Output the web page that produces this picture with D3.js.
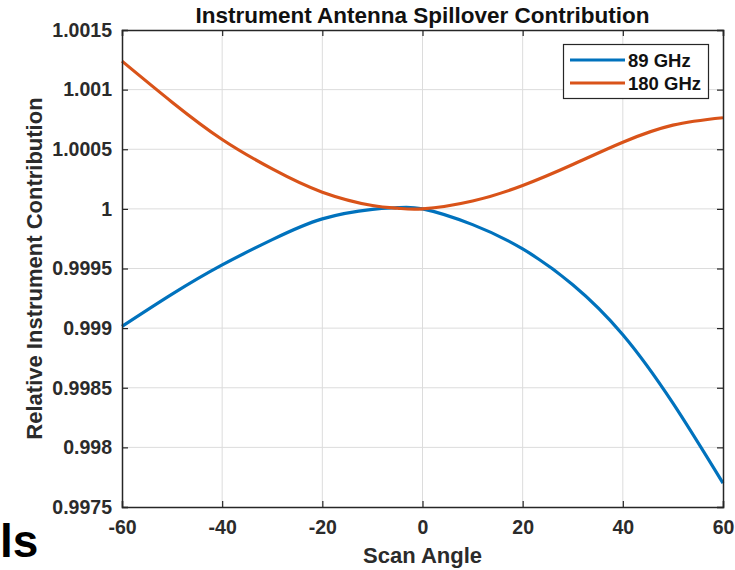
<!DOCTYPE html>
<html><head><meta charset="utf-8">
<script src="https://cdn.jsdelivr.net/npm/d3@7"></script>
<style>body{margin:0;background:#fff;}svg{display:block;font-family:"Liberation Sans",Arial,sans-serif;}</style>
</head><body>
<div id="chart"></div>
<script>
const angles = [-60,-50,-40,-30,-20,-10,-5,0,10,20,30,40,50,60];
const ghz89  = [0.999014,0.999285,0.999530,0.999742,0.999916,0.999996,1.000010,1.000000,0.999868,0.999664,0.999364,0.998945,0.998371,0.997700];
const ghz180 = [1.001239,1.000895,1.000582,1.000335,1.000140,1.000028,1.000006,1.000000,1.000066,1.000196,1.000372,1.000559,1.000702,1.000764];
const seriesNames = ["89 GHz","180 GHz"];
const xTicks = [-60,-40,-20,0,20,40,60];
const xTickLabels = ["-60","-40","-20","0","20","40","60"];
const yTicks = [0.9975,0.998,0.9985,0.999,0.9995,1,1.0005,1.001,1.0015];
const yTickLabels = ["0.9975","0.998","0.9985","0.999","0.9995","1","1.0005","1.001","1.0015"];
const colors = ["#0072BD","#D95319"];

const W=735,H=570;
const m={left:122,right:12,top:30,bottom:63};
const svg=d3.select("#chart").append("svg").attr("width",W).attr("height",H);
const x=d3.scaleLinear().domain([-60,60]).range([m.left,W-m.right]);
const y=d3.scaleLinear().domain([0.9975,1.0015]).range([H-m.bottom,m.top]);
const x0=m.left,x1=W-m.right,y0=H-m.bottom,y1=m.top;

// grid
svg.append("g").selectAll("line").data(xTicks.slice(1,-1)).join("line")
 .attr("x1",d=>x(d)).attr("x2",d=>x(d)).attr("y1",y0).attr("y2",y1)
 .attr("stroke","#dcdcdc").attr("stroke-width",1);
svg.append("g").selectAll("line").data(yTicks.slice(1,-1)).join("line")
 .attr("y1",d=>y(d)).attr("y2",d=>y(d)).attr("x1",x0).attr("x2",x1)
 .attr("stroke","#dcdcdc").attr("stroke-width",1);

// lines
const series=[ghz89,ghz180];
const line=d3.line().x((d,i)=>x(angles[i])).y(d=>y(d)).curve(d3.curveNatural);
series.forEach((s,k)=>{
  svg.append("path").datum(s).attr("d",line).attr("fill","none")
   .attr("stroke",colors[k]).attr("stroke-width",3.2).attr("stroke-linejoin","round");
});

// axes
const tickLen=6;
const axB=svg.append("g").attr("transform",`translate(0,${y0})`)
  .call(d3.axisBottom(x).tickValues(xTicks).tickSize(-tickLen).tickPadding(13).tickFormat((d,i)=>xTickLabels[i]));
const axT=svg.append("g").attr("transform",`translate(0,${y1})`)
  .call(d3.axisTop(x).tickValues(xTicks).tickSize(-tickLen).tickFormat(""));
const axL=svg.append("g").attr("transform",`translate(${x0},0)`)
  .call(d3.axisLeft(y).tickValues(yTicks).tickSize(-tickLen).tickPadding(10).tickFormat((d,i)=>yTickLabels[i]));
const axR=svg.append("g").attr("transform",`translate(${x1},0)`)
  .call(d3.axisRight(y).tickValues(yTicks).tickSize(-tickLen).tickFormat(""));
[axB,axT,axL,axR].forEach(a=>{
  a.select(".domain").attr("stroke","#262626").attr("stroke-width",1.5);
  a.selectAll(".tick line").attr("stroke","#262626").attr("stroke-width",1.2);
  a.selectAll("text").attr("fill","#2b2b2b").attr("font-size",19.5).attr("font-weight","bold").attr("font-family","Liberation Sans, Arial, sans-serif");
});

// title
svg.append("text").attr("x",(x0+x1)/2).attr("y",23).attr("text-anchor","middle")
 .attr("font-size",22.5).attr("font-weight","bold").attr("fill","#111")
 .text("Instrument Antenna Spillover Contribution");
// x label
svg.append("text").attr("x",(x0+x1)/2).attr("y",563).attr("text-anchor","middle")
 .attr("font-size",22).attr("font-weight","bold").attr("fill","#2b2b2b").text("Scan Angle");
// y label
svg.append("text").attr("transform",`translate(42,${(y0+y1)/2}) rotate(-90)`).attr("text-anchor","middle")
 .attr("font-size",22).attr("font-weight","bold").attr("fill","#2b2b2b").text("Relative Instrument Contribution");

// legend
const lg=svg.append("g");
lg.append("rect").attr("x",563.5).attr("y",44.5).attr("width",145).attr("height",54)
 .attr("fill","#fff").attr("stroke","#262626").attr("stroke-width",1.2);
seriesNames.forEach((n,k)=>{
  const yy=60+k*23;
  lg.append("line").attr("x1",570).attr("x2",625).attr("y1",yy).attr("y2",yy).attr("stroke",colors[k]).attr("stroke-width",3.2);
  lg.append("text").attr("x",628).attr("y",yy).attr("dy","0.36em").attr("font-size",18.5).attr("font-weight","bold").attr("fill","#111").text(n);
});

// stray text fragment
svg.append("text").attr("x",0).attr("y",557).attr("font-size",46).attr("font-weight","bold").attr("fill","#000").text("ls");
</script>
</body></html>
